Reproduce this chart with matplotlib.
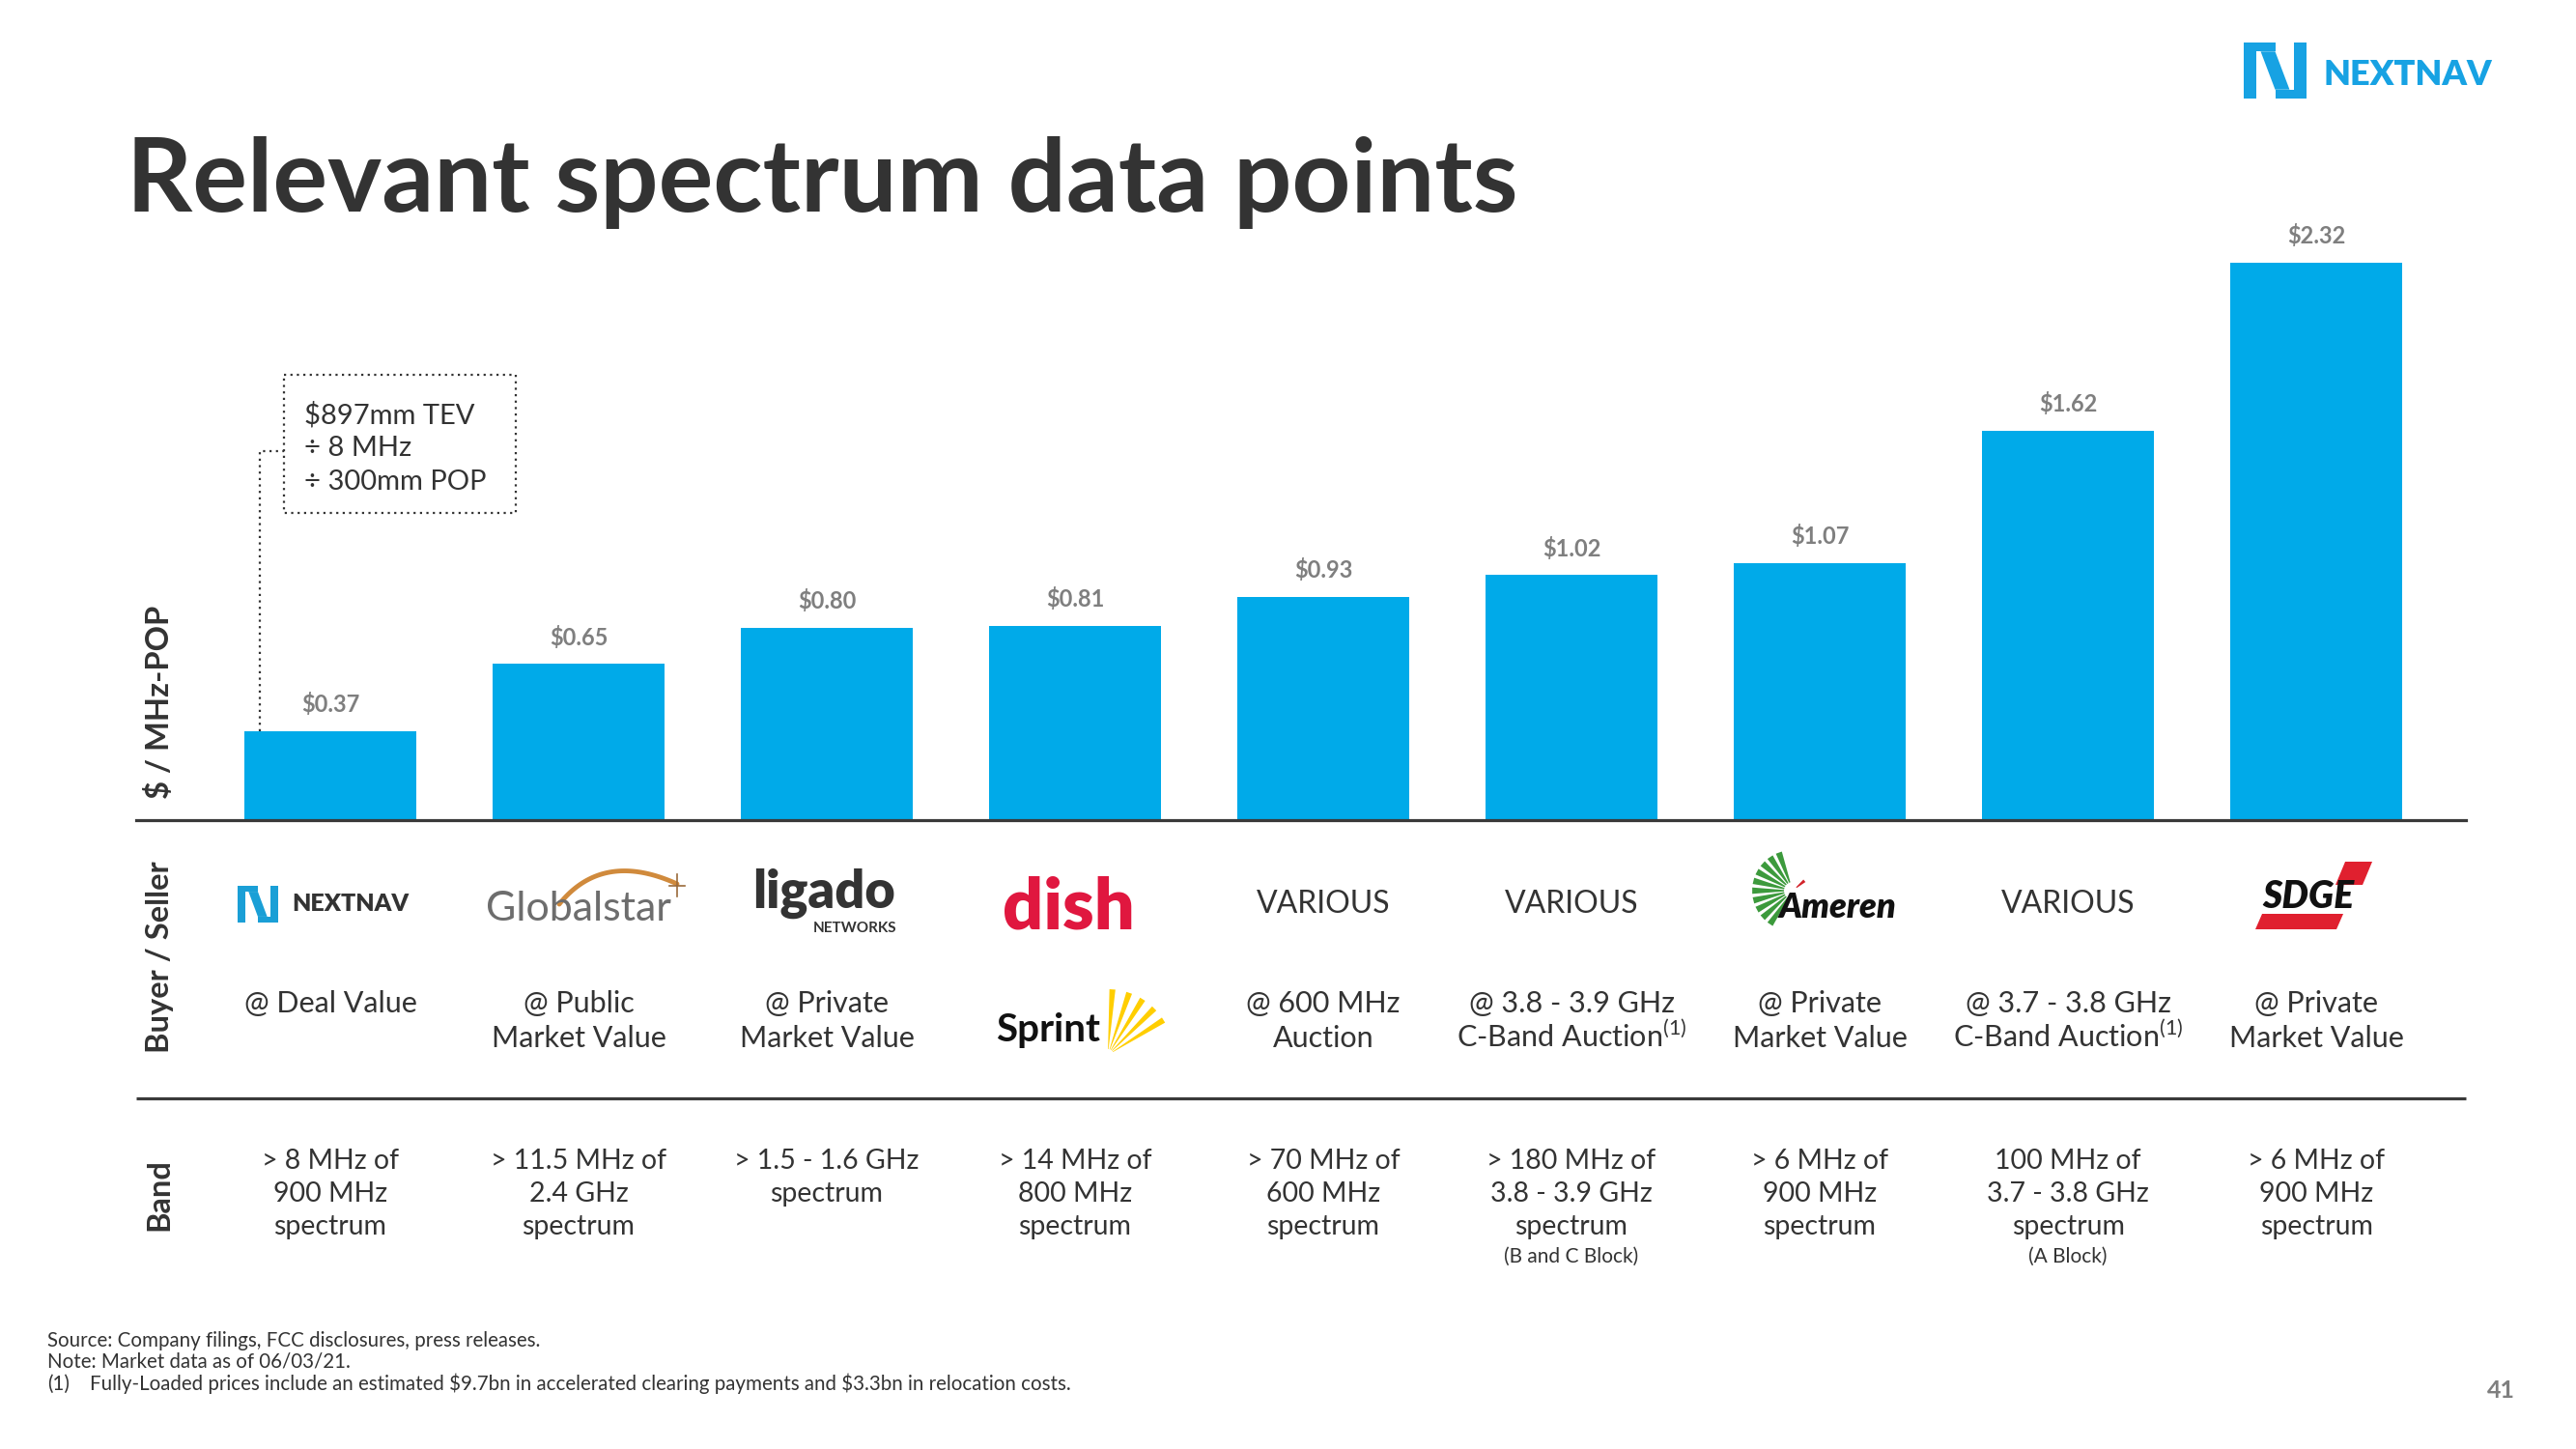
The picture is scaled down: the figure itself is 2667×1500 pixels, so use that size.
import matplotlib
matplotlib.use('Agg')
import matplotlib.pyplot as plt
from matplotlib.patches import Polygon, Rectangle
import numpy as np

plt.rcParams['font.family'] = ['Lato', 'DejaVu Sans']

# ---------------- data ----------------
categories = ['NextNav', 'Globalstar', 'Ligado', 'Dish / Sprint', '600 MHz Auction',
              'C-Band (B and C Block)', 'Ameren', 'C-Band (A Block)', 'SDG&E']
values = [0.37, 0.65, 0.80, 0.81, 0.93, 1.02, 1.07, 1.62, 2.32]
value_labels = ['$0.37', '$0.65', '$0.80', '$0.81', '$0.93', '$1.02', '$1.07', '$1.62', '$2.32']
buyer_labels = ['NEXTNAV', 'Globalstar', 'ligado', 'dish', 'VARIOUS', 'VARIOUS',
                'Ameren', 'VARIOUS', 'SDGE']
basis_labels = ['@ Deal Value', '@ Public\nMarket Value', '@ Private\nMarket Value', 'Sprint',
                '@ 600 MHz\nAuction', '@ 3.8 - 3.9 GHz\nC-Band Auction$^{\\mathregular{(1)}}$',
                '@ Private\nMarket Value', '@ 3.7 - 3.8 GHz\nC-Band Auction$^{\\mathregular{(1)}}$',
                '@ Private\nMarket Value']
band_labels = ['> 8 MHz of\n900 MHz\nspectrum', '> 11.5 MHz of\n2.4 GHz\nspectrum',
               '> 1.5 - 1.6 GHz\nspectrum', '> 14 MHz of\n800 MHz\nspectrum',
               '> 70 MHz of\n600 MHz\nspectrum', '> 180 MHz of\n3.8 - 3.9 GHz\nspectrum',
               '> 6 MHz of\n900 MHz\nspectrum', '100 MHz of\n3.7 - 3.8 GHz\nspectrum',
               '> 6 MHz of\n900 MHz\nspectrum']
band_notes = ['', '', '', '', '', '(B and C Block)', '', '(A Block)', '']
annotation_lines = ['$897mm TEV', '\u00f7 8 MHz', '\u00f7 300mm POP']
footnotes = ['Source: Company filings, FCC disclosures, press releases.',
             'Note: Market data as of 06/03/21.']
footnote_1 = 'Fully-Loaded prices include an estimated $9.7bn in accelerated clearing payments and $3.3bn in relocation costs.'
title = 'Relevant spectrum data points'

# ---------------- style ----------------
BLUE = '#00AAE9'
DARK = '#333333'
GREY = '#7f7f7f'
W, H = 2667, 1500

fig = plt.figure(figsize=(W / 100, H / 100), dpi=100)
fig.patch.set_facecolor('white')

# bar axes
ax = fig.add_axes([141 / W, (H - 849) / H, (2553 - 141) / W, 621.5 / H])
x = np.arange(len(values))
ax.bar(x, values, width=0.69, color=BLUE, zorder=2)
ax.set_xlim(-0.782, 8.603)
ax.set_ylim(0, 2.5)
for s in ['top', 'right', 'left']:
    ax.spines[s].set_visible(False)
ax.spines['bottom'].set_linewidth(2.3)
ax.spines['bottom'].set_color('#3a3a3a')
ax.set_xticks([])
ax.set_yticks([])
ax.patch.set_visible(False)
for i, (v, lab) in enumerate(zip(values, value_labels)):
    ax.annotate(lab, (i, v), xytext=(0, 20), textcoords='offset points',
                ha='center', va='center', fontsize=17, fontweight='bold', color=GREY)

# overlay axes in pixel coordinates (y downward)
ov = fig.add_axes([0, 0, 1, 1])
ov.set_xlim(0, W)
ov.set_ylim(H, 0)
ov.axis('off')
ov.patch.set_visible(False)


def col_x(i):
    return ax.transData.transform((i, 0))[0]


def bar_top_px(i):
    return H - ax.transData.transform((i, values[i]))[1]


ax_x0 = ax.transAxes.transform((0, 0))[0]
ax_x1 = ax.transAxes.transform((1, 0))[0]

# title
ov.text(131, 219, title, fontsize=76.5, fontweight='bold', color=DARK, ha='left', va='baseline')

# second separator line
ov.plot([ax_x0, ax_x1], [1137, 1137], color='#3a3a3a', lw=2.3, solid_capstyle='butt')

# rotated row labels
for lab, yc in [('$ / MHz-POP', 727), ('Buyer / Seller', 991), ('Band', 1237)]:
    ov.text(165, yc, lab, rotation=90, ha='center', va='center', parse_math=False,
            fontsize=23.5, fontweight='bold', color=DARK)


def nn_icon(x0, y0, w, h, color):
    shapes = [
        [(0, 0), (0.2, 0), (0.2, 1), (0, 1)],
        [(0, 0.84), (0.5, 0.84), (0.5, 1), (0, 1)],
        [(0.8, 0), (1, 0), (1, 1), (0.8, 1)],
        [(0.5, 0), (1, 0), (1, 0.16), (0.5, 0.16)],
        [(0.27, 0.84), (0.5, 0.84), (0.73, 0.16), (0.5, 0.16)],
    ]
    for shp in shapes:
        pts = [(x0 + u * w, y0 + (1 - v) * h) for u, v in shp]
        ov.add_patch(Polygon(pts, closed=True, facecolor=color, edgecolor='none'))


def fan(cx, cy, angles, r_in, r_out, half_width, color):
    for a in angles:
        a1 = np.radians(a - half_width)
        a2 = np.radians(a + half_width)
        pts = [(cx + r_in * np.cos(a1), cy - r_in * np.sin(a1)),
               (cx + r_out * np.cos(a1), cy - r_out * np.sin(a1)),
               (cx + r_out * np.cos(a2), cy - r_out * np.sin(a2)),
               (cx + r_in * np.cos(a2), cy - r_in * np.sin(a2))]
        ov.add_patch(Polygon(pts, closed=True, facecolor=color, edgecolor='none'))


# top-right logo
nn_icon(2323, 44, 65, 58, '#17A2E3')
ov.text(2405, 88, 'NEXTNAV', fontsize=26, fontweight='heavy', color='#17A2E3',
        ha='left', va='baseline')

# ---------------- buyer / seller logos ----------------
# 0 NextNav
c = col_x(0)
nn_icon(c - 96, 917, 42, 38, '#1a9fd6')
ov.text(c - 40, 943, buyer_labels[0], fontsize=18, fontweight='heavy', color=DARK,
        ha='left', va='baseline')
# 1 Globalstar
c = col_x(1)
t = np.linspace(0, 1, 60)
p0, p1, p2 = np.array([c - 20, 936]), np.array([c + 25, 880]), np.array([c + 102, 915])
curve = ((1 - t) ** 2)[:, None] * p0 + (2 * (1 - t) * t)[:, None] * p1 + (t ** 2)[:, None] * p2
ov.plot(curve[:, 0], curve[:, 1], color='#D08A3C', lw=3.5, solid_capstyle='round')
ov.plot([c + 102, c + 102], [905, 928], color='#9a6a3a', lw=1.2)
ov.plot([c + 94, c + 110], [917, 917], color='#9a6a3a', lw=1.2)
ov.text(c, 953, buyer_labels[1], fontsize=31, color='#6d6d6d', ha='center', va='baseline')
# 2 ligado
c = col_x(2)
ov.text(c - 3, 940, buyer_labels[2], fontsize=39, fontweight='heavy', color=DARK,
        ha='center', va='baseline')
ov.text(c + 72, 965, 'NETWORKS', fontsize=11, fontweight='bold', color=DARK,
        ha='right', va='baseline')
# 3 dish
c = col_x(3)
ov.text(c - 7, 962, buyer_labels[3], fontsize=53, fontweight='heavy', color='#E0173F',
        ha='center', va='baseline')
# 4,5,7 various
for i in [4, 5, 7]:
    ov.text(col_x(i), 945, buyer_labels[i], fontsize=23, color=DARK, ha='center', va='baseline')
# 6 Ameren
c = col_x(6)
fan(c - 28, 922, np.arange(110, 240, 14), 9, 42, 4.5, '#3C9A3C')
fan(c - 28, 922, [40], 5, 16, 6, '#D2232A')
ov.text(c - 42, 950, buyer_labels[6], fontsize=26, fontweight='heavy', style='italic',
        color='#111111', ha='left', va='baseline')
# 8 SDGE
c = col_x(8)
ov.add_patch(Polygon([(c - 63, 962), (c - 56, 946), (c + 28, 946), (c + 21, 962)],
                     closed=True, facecolor='#E0202F', edgecolor='none'))
ov.add_patch(Polygon([(c + 20, 916), (c + 30, 892), (c + 58, 892), (c + 48, 916)],
                     closed=True, facecolor='#E0202F', edgecolor='none'))
ov.text(c - 8, 940, buyer_labels[8], fontsize=28, fontweight='heavy', style='italic',
        color='#111111', ha='center', va='baseline')

# ---------------- basis row ----------------
for i, lab in enumerate(basis_labels):
    c = col_x(i)
    if lab == 'Sprint':
        ov.text(c - 28, 1078, lab, fontsize=29, fontweight='bold', color='#111111',
                ha='center', va='baseline')
        fan(c + 34, 1092, [32, 45, 58, 71, 86], 6, 68, 2.6, '#FFCE00')
        continue
    for k, line in enumerate(lab.split('\n')):
        ov.text(c, 1048 + 36 * k, line, fontsize=22, color=DARK,
                ha='center', va='baseline')

# ---------------- band row ----------------
for i, lab in enumerate(band_labels):
    c = col_x(i)
    lines = lab.split('\n')
    for k, line in enumerate(lines):
        ov.text(c, 1210 + 34 * k, line, fontsize=20.5, color=DARK,
                ha='center', va='baseline')
    if band_notes[i]:
        ov.text(c, 1307, band_notes[i], fontsize=15, color=DARK,
                ha='center', va='baseline')

# ---------------- annotation box ----------------
ov.add_patch(Rectangle((294, 388), 240, 143, fill=False, edgecolor=DARK,
                       linestyle=(0, (1, 2)), lw=1.6))
bx = col_x(0) - 73
ov.plot([bx, bx, 294], [bar_top_px(0), 467, 467], color=DARK, linestyle=(0, (1, 2)), lw=1.6)
for k, line in enumerate(annotation_lines):
    ov.text(315, 438 + 34.5 * k, line, fontsize=21, color=DARK, parse_math=False,
            ha='left', va='baseline')

# ---------------- footnotes ----------------
ov.text(49, 1394, footnotes[0], fontsize=14.8, color=DARK, ha='left', va='baseline', parse_math=False)
ov.text(49, 1416, footnotes[1], fontsize=14.8, color=DARK, ha='left', va='baseline', parse_math=False)
ov.text(49, 1439, '(1)', fontsize=14.8, color=DARK, ha='left', va='baseline')
ov.text(93, 1439, footnote_1, fontsize=14.8, color=DARK, ha='left', va='baseline', parse_math=False)

# page number
ov.text(2589, 1447, '41', fontsize=18, fontweight='bold', color=GREY, ha='center', va='baseline')

fig.savefig('out.png', dpi=100, facecolor='white')
